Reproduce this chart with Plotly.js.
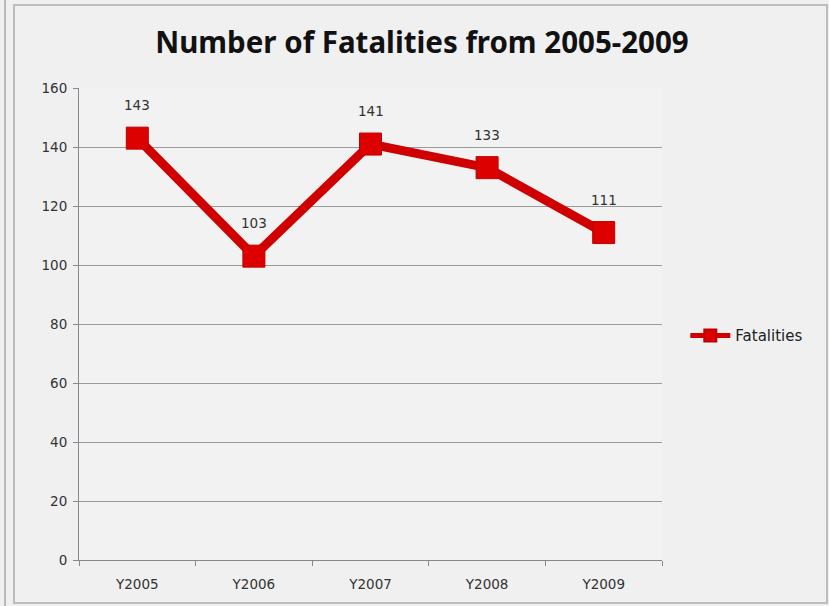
<!DOCTYPE html>
<html>
<head>
<meta charset="utf-8">
<script src="https://cdn.plot.ly/plotly-3.0.1.min.js"></script>
<style>html,body{margin:0;padding:0;background:#f4f4f4;}#chart{width:829px;height:606px;}</style>
</head>
<body>
<div id="chart"></div>
<script>
var categories = ["Y2005", "Y2006", "Y2007", "Y2008", "Y2009"];
var fatalities = [143, 103, 141, 133, 111];
var seriesName = "Fatalities";
var yTicks = [0, 20, 40, 60, 80, 100, 120, 140, 160];

var tickFont = {family: "DejaVu Sans, sans-serif", size: 13.5, color: "#333"};

var trace = {
  x: categories,
  y: fatalities,
  name: seriesName,
  type: "scatter",
  mode: "lines+markers",
  line: {color: "#d00000", width: 9},
  marker: {symbol: "square", size: 22, color: "#dd0000", line: {color: "#c00000", width: 1}},
  cliponaxis: false
};

var labels = categories.map(function (c, i) {
  return {
    x: c, y: fatalities[i], xref: "x", yref: "y",
    text: String(fatalities[i]), showarrow: false, yshift: 33,
    font: {family: "DejaVu Sans, sans-serif", size: 13.5, color: "#333"}
  };
});

var layout = {
  width: 829, height: 606,
  margin: {l: 79, r: 167, t: 88, b: 46},
  paper_bgcolor: "#f0f0f0",
  plot_bgcolor: "#f2f2f2",
  title: {
    text: "Number of Fatalities from 2005-2009",
    font: {family: "Noto Sans, sans-serif", size: 29.5, color: "#111", weight: "bold"},
    x: 0.509, xanchor: "center", y: 0.93, yanchor: "middle"
  },
  xaxis: {
    type: "category",
    range: [-0.5, 4.5],
    showgrid: false,
    showline: true, linecolor: "#888", linewidth: 1,
    ticks: "outside", tickson: "boundaries", ticklen: 5, tickcolor: "#888",
    tickfont: tickFont,
    ticklabelstandoff: 12,
    fixedrange: true
  },
  yaxis: {
    range: [0, 160],
    tickvals: yTicks,
    showgrid: true, gridcolor: "#9a9a9a", gridwidth: 1,
    showline: true, linecolor: "#888", linewidth: 1,
    ticks: "outside", ticklen: 5, tickcolor: "#888",
    zeroline: false,
    tickfont: tickFont,
    ticklabelstandoff: 3,
    fixedrange: true
  },
  showlegend: true,
  legend: {
    x: 1.04, xanchor: "left", y: 0.475, yanchor: "middle",
    bgcolor: "rgba(0,0,0,0)",
    font: {family: "DejaVu Sans, sans-serif", size: 15, color: "#222"},
    itemsizing: "constant",
    itemwidth: 40
  },
  annotations: labels,
  shapes: [
    {type: "line", xref: "paper", yref: "paper", x0: -0.1269, x1: -0.1269, y0: -0.2, y1: 1.3,
     line: {color: "#b8b8b8", width: 2}, layer: "below"},
    {type: "rect", xref: "paper", yref: "paper", x0: -0.1115, x1: 1.283, y0: -0.0911, y1: 1.1758,
     line: {color: "#bdbdbd", width: 2}, fillcolor: "rgba(0,0,0,0)", layer: "below"}
  ]
};

Plotly.newPlot("chart", [trace], layout, {displayModeBar: false, staticPlot: true});
</script>
</body>
</html>
